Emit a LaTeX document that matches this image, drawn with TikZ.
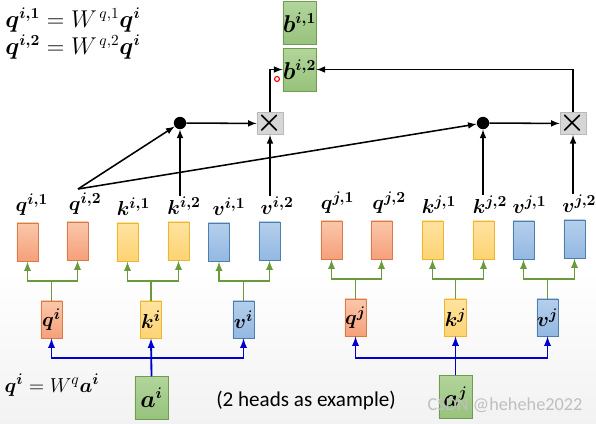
\documentclass[tikz,border=0pt]{standalone}
\usepackage{amsmath}
\usepackage{amssymb}
\usepackage{fontspec}
\setmainfont{Carlito}
\usepackage{tikz}
\usetikzlibrary{positioning}
\usepackage{xcolor}

\definecolor{qtop}{HTML}{FAC7AA}
\definecolor{qbot}{HTML}{F6A07A}
\definecolor{qdraw}{HTML}{D97A4A}
\definecolor{ktop}{HTML}{FFE3A0}
\definecolor{kbot}{HTML}{FDD373}
\definecolor{kdraw}{HTML}{EDB62E}
\definecolor{vtop}{HTML}{B5CFEC}
\definecolor{vbot}{HTML}{93B8E2}
\definecolor{vdraw}{HTML}{4F7DAE}
\definecolor{gtop}{HTML}{B2D59B}
\definecolor{gbot}{HTML}{97C27C}
\definecolor{gdraw}{HTML}{6F9C52}
\definecolor{tline}{HTML}{6A9A3C}
\definecolor{bline}{HTML}{0000CC}

\tikzset{
	vecq/.style={draw=qdraw, top color=qtop, bottom color=qbot, minimum width=0.53cm, minimum height=0.96cm, inner sep=0pt, font=\fontsize{15}{18}\selectfont},
	veck/.style={vecq, draw=kdraw, top color=ktop, bottom color=kbot},
	vecv/.style={vecq, draw=vdraw, top color=vtop, bottom color=vbot},
	vecg/.style={draw=gdraw, top color=gtop, bottom color=gbot, minimum width=0.83cm, minimum height=1.07cm, inner sep=0pt, font=\fontsize{16}{18}\selectfont},
	lbl/.style={inner sep=0pt, font=\fontsize{15}{18}\selectfont},
	mult/.style={draw=gray!55, fill=gray!32, minimum width=0.55cm, minimum height=0.53cm, inner sep=0pt, font=\fontsize{20}{20}\selectfont},
	dot/.style={circle, fill=black, minimum size=0.31cm, inner sep=0pt},
	arr/.style={-latex, line width=1.1pt},
	tree/.style={-latex, draw=tline, line width=1.3pt},
	feed/.style={-latex, draw=bline, line width=1.3pt}
}

\begin{document}
\begin{tikzpicture}[x=0.025cm, y=-0.025cm]
	\useasboundingbox (0,0) rectangle (596,423);
	\shade[top color=white, bottom color=gray!10] (0,270) rectangle (596,423);

	% formulas
	\node[lbl, anchor=west, font=\fontsize{16}{18}\selectfont] (eq1) at (5,20) {$\boldsymbol{q^{i,1}} = W^{\,q,1}\boldsymbol{q^{i}}$};
	\node[lbl, anchor=west, font=\fontsize{16}{18}\selectfont] (eq2) at (5,47) {$\boldsymbol{q^{i,2}} = W^{\,q,2}\boldsymbol{q^{i}}$};
	\node[lbl] (eq3) at (52,385) {$\boldsymbol{q^{i}} = W^{q}\boldsymbol{a^{i}}$};

	% inputs
	\node[vecg] (ai) at (151.5,398) {$\boldsymbol{a^{i}}$};
	\node[vecg] (aj) at (455.5,397) {$\boldsymbol{a^{j}}$};

	% q k v
	\node[vecq, minimum height=0.93cm] (qi) at (51.5,319.5) {$\boldsymbol{q^{i}}$};
	\node[veck, minimum height=0.93cm] (ki) at (151,319.5) {$\boldsymbol{k^{i}}$};
	\node[vecv, minimum height=0.93cm] (vi) at (243.5,319.5) {$\boldsymbol{v^{i}}$};
	\node[vecq, minimum height=0.93cm] (qj) at (355.5,317.5) {$\boldsymbol{q^{j}}$};
	\node[veck, minimum height=0.93cm] (kj) at (455.5,317.5) {$\boldsymbol{k^{j}}$};
	\node[vecv, minimum height=0.93cm] (vj) at (547.5,317.5) {$\boldsymbol{v^{j}}$};

	% heads
	\node[vecq] (qi1) at (27.5,242) {};
	\node[vecq] (qi2) at (77.5,241) {};
	\node[veck] (ki1) at (127.5,242) {};
	\node[veck] (ki2) at (178.5,241) {};
	\node[vecv] (vi1) at (219,242) {};
	\node[vecv] (vi2) at (269.5,241) {};
	\node[vecq] (qj1) at (331.5,240) {};
	\node[vecq] (qj2) at (381.5,240) {};
	\node[veck] (kj1) at (432.5,240) {};
	\node[veck] (kj2) at (483.5,240) {};
	\node[vecv] (vj1) at (523.5,240) {};
	\node[vecv] (vj2) at (574.5,239) {};

	\node[lbl, above=0.17cm of qi1, xshift=0.11cm] (lqi1) {$\boldsymbol{q^{i,1}}$};
	\node[lbl, above=0.17cm of qi2, xshift=0.19cm] (lqi2) {$\boldsymbol{q^{i,2}}$};
	\node[lbl, above=0.17cm of ki1, xshift=0.15cm] (lki1) {$\boldsymbol{k^{i,1}}$};
	\node[lbl, above=0.17cm of ki2, xshift=0.14cm] (lki2) {$\boldsymbol{k^{i,2}}$};
	\node[lbl, above=0.17cm of vi1, xshift=0.25cm] (lvi1) {$\boldsymbol{v^{i,1}}$};
	\node[lbl, above=0.17cm of vi2, xshift=0.19cm] (lvi2) {$\boldsymbol{v^{i,2}}$};
	\node[lbl, above=0.17cm of qj1, xshift=0.15cm] (lqj1) {$\boldsymbol{q^{j,1}}$};
	\node[lbl, above=0.17cm of qj2, xshift=0.19cm] (lqj2) {$\boldsymbol{q^{j,2}}$};
	\node[lbl, above=0.17cm of kj1, xshift=0.16cm] (lkj1) {$\boldsymbol{k^{j,1}}$};
	\node[lbl, above=0.17cm of kj2, xshift=0.16cm] (lkj2) {$\boldsymbol{k^{j,2}}$};
	\node[lbl, above=0.17cm of vj1, xshift=0.15cm] (lvj1) {$\boldsymbol{v^{j,1}}$};
	\node[lbl, above=0.17cm of vj2, xshift=0.12cm] (lvj2) {$\boldsymbol{v^{j,2}}$};

	% attention of head 2
	\node[dot] (dotl) at (180,123) {};
	\node[dot] (dotr) at (483,123) {};
	\node[mult] (mull) at (270,123.5) {$\boldsymbol{\times}$};
	\node[mult] (mulr) at (573,123.5) {$\boldsymbol{\times}$};
	\node[vecg] (bi1) at (299.5,23) {$\boldsymbol{b^{i,1}}$};
	\node[vecg] (bi2) at (299.5,69.5) {$\boldsymbol{b^{i,2}}$};
	\coordinate (src) at (78,189);

	\draw[arr] (src) -- (dotl);
	\draw[arr] (src) -- (dotr);
	\draw[arr] (dotl |- lki2.north) -- (dotl);
	\draw[arr] (dotr |- lkj2.north) -- (dotr);
	\draw[arr] (mull |- lvi2.north) -- (mull);
	\draw[arr] (mulr |- lvj2.north) -- (mulr);
	\draw[arr] (dotl) -- (mull);
	\draw[arr] (dotr) -- (mulr);
	\draw[arr] (mull.north) |- (bi2.west);
	\draw[arr] (mulr.north) |- (bi2.east);

	% splitting into heads
	\draw[tree] (qi.north) -- ++(0,-20) -| (qi1.south);
	\draw[tree] (qi.north) -- ++(0,-20) -| (qi2.south);
	\draw[tree] (ki.north) -- ++(0,-20) -| (ki1.south);
	\draw[tree] (ki.north) -- ++(0,-20) -| (ki2.south);
	\draw[tree] (vi.north) -- ++(0,-20) -| (vi1.south);
	\draw[tree] (vi.north) -- ++(0,-20) -| (vi2.south);
	\draw[tree] (qj.north) -- ++(0,-20) -| (qj1.south);
	\draw[tree] (qj.north) -- ++(0,-20) -| (qj2.south);
	\draw[tree] (kj.north) -- ++(0,-20) -| (kj1.south);
	\draw[tree] (kj.north) -- ++(0,-20) -| (kj2.south);
	\draw[tree] (vj.north) -- ++(0,-20) -| (vj1.south);
	\draw[tree] (vj.north) -- ++(0,-20) -| (vj2.south);

	% input to q k v
	\draw[feed] (ai.north) -- ++(0,-18) -| (qi.south);
	\draw[feed] (ai.north) -- (ki.south);
	\draw[feed] (ai.north) -- ++(0,-18) -| (vi.south);
	\draw[feed] (aj.north) -- ++(0,-17) -| (qj.south);
	\draw[feed] (aj.north) -- (kj.south);
	\draw[feed] (aj.north) -- ++(0,-17) -| (vj.south);

	\node[font=\fontsize{15}{17}\selectfont] (note) at (306,400) {(2 heads as example)};
	\node[font=\fontsize{13}{15}\selectfont, text=gray!50] (mark) at (505,405) {CSDN @hehehe2022};
	\draw[red, line width=0.8pt] (277,79) circle (2.5);
\end{tikzpicture}
\end{document}
